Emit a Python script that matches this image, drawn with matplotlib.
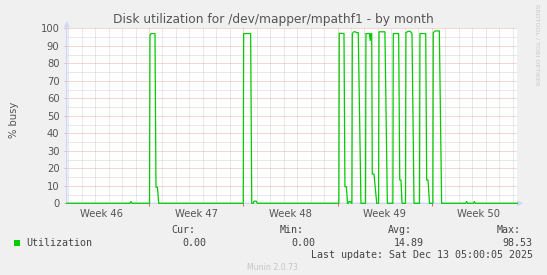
import matplotlib
matplotlib.use("Agg")
import matplotlib.pyplot as plt
from matplotlib.patches import Rectangle

# ---------------- data ----------------
title = "Disk utilization for /dev/mapper/mpathf1 - by month"
ylabel = "% busy"
week_labels = ["Week 46", "Week 47", "Week 48", "Week 49", "Week 50"]
week_label_pos = [-3.5, 3.5, 10.5, 17.5, 24.5]      # days, mid-week
week_bounds = [0, 7, 14, 21]                         # days, week boundaries
day_ticks = list(range(-6, 28))                      # daily minor grid
x_range = (-6.11, 27.35)
y_major = list(range(0, 101, 10))
y_minor = list(range(5, 100, 10))

# time in days relative to first week boundary, utilization in %
t = [-6.11, -1.42, -1.34, -1.26,
     0.04, 0.074, 0.15, 0.446, 0.52, 0.63, 0.72,
     7.00, 7.03, 7.55, 7.63, 7.74, 7.80, 7.98, 8.04,
     14.10, 14.13, 14.48, 14.55, 14.66, 14.74, 14.81, 14.85, 14.96, 15.03,
     15.07, 15.10, 15.20, 15.35, 15.40, 15.54, 15.74,
     16.08, 16.11, 16.37, 16.43, 16.48, 16.54, 16.58, 16.71, 16.91,
     17.05, 17.08, 17.52, 17.70,
     18.11, 18.14, 18.54, 18.62, 18.71, 18.79,
     19.05, 19.08, 19.25, 19.40, 19.53, 19.68,
     20.09, 20.12, 20.55, 20.62, 20.72, 20.83,
     21.08, 21.11, 21.25, 21.56, 21.73,
     23.52, 23.59, 23.66, 24.09, 24.16, 24.23, 27.35]
util = [0, 0, 1.0, 0,
        0, 96, 97, 97, 9.2, 9.2, 0,
        0, 97, 97, 0, 0, 1.2, 1.2, 0,
        0, 97.1, 97.1, 9.5, 9.5, 0, 0, 1.0, 1.0, 0,
        0, 97, 98, 98, 97.5, 97.5, 0,
        0, 97, 97, 93, 97, 97, 16.7, 16.7, 0,
        0, 98, 98, 0,
        0, 97, 97, 13.3, 13.3, 0,
        0, 97.5, 98.3, 98.3, 97, 0,
        0, 97, 97, 13.3, 13.3, 0,
        0, 97.5, 98.5, 98.5, 0,
        0, 1.0, 0, 0, 1.0, 0, 0]

legend_name = "Utilization"
stat_names = ["Cur:", "Min:", "Avg:", "Max:"]
stat_values = ["0.00", "0.00", "14.89", "98.53"]
last_update = "Last update: Sat Dec 13 05:00:05 2025"
footer = "Munin 2.0.73"
watermark = "RRDTOOL / TOBI OETIKER"

# ---------------- style ----------------
W, H = 547, 275
BG = "#F0F0F0"
FONT_C = "#555555"
AXIS_C = "#CFD6F8"
GRID_C = "#D2D2D2"
MGRID_C = "#EDADAD"
LINE_C = "#00CC00"

def fx(px):
    return px / W

def fy(py):
    return 1 - py / H

fig = plt.figure(figsize=(W / 100, H / 100), dpi=100, facecolor=BG)
left, right, top, bottom = 66.7, 517.3, 28.3, 203.3
ax = fig.add_axes([fx(left), fy(bottom), (right - left) / W, (bottom - top) / H])
ax.set_facecolor("white")
for s in ax.spines.values():
    s.set_visible(False)
ax.set_xlim(*x_range)
ax.set_ylim(0, 100)

dot = (0, (1, 1))
gkw = dict(lw=0.72, ls=dot)
# minor grid
for d in day_ticks:
    if d not in week_bounds and x_range[0] < d < x_range[1]:
        ax.axvline(d, color=GRID_C, zorder=1, **gkw)
for yv in y_minor:
    ax.axhline(yv, color=GRID_C, zorder=1, **gkw)
# major grid
for d in week_bounds:
    ax.axvline(d, color=MGRID_C, zorder=2, **gkw)
for yv in y_major[1:]:
    ax.axhline(yv, color=MGRID_C, zorder=2, **gkw)

# axes with arrows
ax.annotate("", xy=(1 + 6 / (right - left), 0), xytext=(0, 0), xycoords="axes fraction",
            arrowprops=dict(arrowstyle="-|>", color=AXIS_C, lw=1.0, mutation_scale=7,
                            shrinkA=0, shrinkB=0), zorder=3, annotation_clip=False)
ax.annotate("", xy=(0, 1 + 7 / (bottom - top)), xytext=(0, 0), xycoords="axes fraction",
            arrowprops=dict(arrowstyle="-|>", color=AXIS_C, lw=1.0, mutation_scale=7,
                            shrinkA=0, shrinkB=0), zorder=3, annotation_clip=False)

# data line
ax.plot(t, util, color=LINE_C, lw=0.9, zorder=5, clip_on=False)

# ticks
ax.set_yticks(y_major)
ax.set_yticklabels([str(v) for v in y_major])
ax.tick_params(axis="y", which="major", length=2, width=0.7, color=MGRID_C,
               labelsize=7.2, labelcolor=FONT_C, pad=3.2)
ax.set_xticks(week_bounds)
ax.set_xticklabels([""] * len(week_bounds))
ax.tick_params(axis="x", which="major", length=2, width=0.7, color="#E06060")
ax.set_xticks(week_label_pos, minor=True)
ax.set_xticklabels(week_labels, minor=True)
ax.tick_params(axis="x", which="minor", length=0, labelsize=7.2, labelcolor=FONT_C, pad=4.2)

# texts
fig.text(fx(273), fy(20), title, ha="center", va="center", fontsize=8.8, color=FONT_C)
fig.text(fx(14), fy(120), ylabel, ha="center", va="center", rotation=90, fontsize=7.2,
         color=FONT_C)
fig.text(fx(537), fy(4), watermark, ha="center", va="top", rotation=270, fontsize=4.6,
         color="#C8C8C8")

mono = "DejaVu Sans Mono"
fig.patches.append(Rectangle((fx(13.8), fy(246)), 6 / W, 6 / H, transform=fig.transFigure,
                             facecolor=LINE_C, edgecolor="none"))
fig.text(fx(26), fy(243), legend_name, ha="left", va="center", family=mono, fontsize=7.2,
         color="#444444")
name_x = [171, 280, 388, 496.7]
val_right = [206.5, 315.7, 423.8, 532.6]
for nx, nm in zip(name_x, stat_names):
    fig.text(fx(nx), fy(230), nm, ha="left", va="center", family=mono, fontsize=7.2,
             color="#444444")
for vx, vv in zip(val_right, stat_values):
    fig.text(fx(vx), fy(243), vv, ha="right", va="center", family=mono, fontsize=7.2,
             color="#444444")
fig.text(fx(532.6), fy(255.5), last_update, ha="right", va="center", family=mono,
         fontsize=7.2, color="#444444")
fig.text(fx(272.8), fy(268), footer, ha="center", va="center", fontsize=5.6, color="#C4C4C4")

fig.savefig("out.png", dpi=100, facecolor=BG)
